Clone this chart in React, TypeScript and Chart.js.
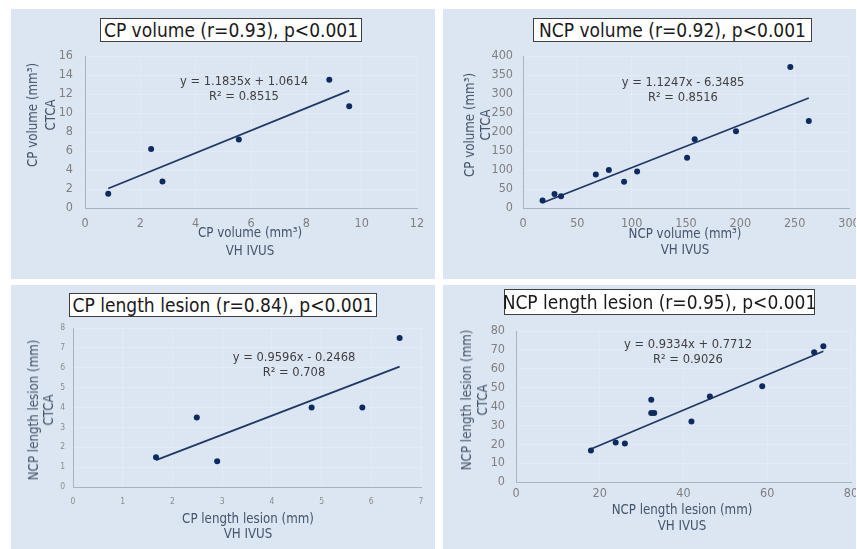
import React, { useEffect, useRef } from "react";
import { Chart, registerables } from "chart.js";

Chart.register(...registerables);

// ---------- data ----------
const cpVolIvus = [0.84, 2.39, 2.8, 5.56, 8.83, 9.55];
const cpVolCtca = [1.5, 6.2, 2.8, 7.2, 13.5, 10.7];

const ncpVolIvus = [18, 29, 35, 67, 79, 93, 105, 151, 158, 196, 246, 263];
const ncpVolCtca = [20, 37, 31, 88, 100, 69, 96, 132, 181, 202, 371, 229];

const cpLenIvus = [1.67, 2.49, 2.9, 4.8, 5.82, 6.57];
const cpLenCtca = [1.5, 3.5, 1.3, 4.0, 4.0, 7.5];

const ncpLenIvus = [17.9, 23.8, 26.0, 32.3, 32.3, 33.0, 41.9, 46.3, 58.8, 71.2, 73.4];
const ncpLenCtca = [16.7, 20.9, 20.4, 43.6, 36.6, 36.6, 32.0, 45.3, 50.7, 68.7, 71.9];

const trendSlopes = [1.1835, 1.1247, 0.9596, 0.9334];
const trendIntercepts = [1.0614, -6.3485, -0.2468, 0.7712];

const panelTitles = [
  "CP volume (r=0.93), p<0.001",
  "NCP volume (r=0.92),  p<0.001",
  "CP length lesion (r=0.84), p<0.001",
  "NCP length lesion (r=0.95), p<0.001",
];
const equations = [
  ["y = 1.1835x + 1.0614", "R\u00b2 = 0.8515"],
  ["y = 1.1247x - 6.3485", "R\u00b2 = 0.8516"],
  ["y = 0.9596x - 0.2468", "R\u00b2 = 0.708"],
  ["y = 0.9334x + 0.7712", "R\u00b2 = 0.9026"],
];
const xTitles = [
  ["CP volume (mm\u00b3)", "VH IVUS"],
  ["NCP volume (mm\u00b3)", "VH IVUS"],
  ["CP length lesion (mm)", "VH IVUS"],
  ["NCP length lesion (mm)", "VH IVUS"],
];
const yTitles = [
  ["CP volume (mm\u00b3)", "CTCA"],
  ["CP volume (mm\u00b3)", "CTCA"],
  ["NCP  length lesion (mm)", "CTCA"],
  ["NCP length lesion (mm)", "CTCA"],
];
const xRanges = [
  [0, 12, 2],
  [0, 300, 50],
  [0, 7, 1],
  [0, 80, 20],
];
const yRanges = [
  [0, 16, 2],
  [0, 400, 50],
  [0, 8, 1],
  [0, 80, 10],
];

// ---------- styling / layout ----------
const FONT = "'DejaVu Sans Condensed', 'DejaVu Sans', sans-serif";
const PANEL_BG = "#dce6f2";
const POINT_COLOR = "#0d2b5e";
const LINE_COLOR = "#1f3864";
const AXIS_TITLE_COLOR = "#44546a";
const GRID_COLOR = "rgba(255,255,255,0.18)";

type Layout = {
  box: [number, number, number, number];
  pad: { top: number; right: number };
  yW: number;
  xH: number;
  tickSize: number;
  tickColor: string;
  yTickPad: number;
  xTickPad: number;
  titleBox: [number, number, number, number];
  titleSize: number;
  eq: [number, number];
  eqSize: number;
  xTitle: [number, number];
  yTitle: [number, number];
  axisSize: number;
  axisLH: number;
};

const layouts: Layout[] = [
  {
    box: [11, 9, 424, 270],
    pad: { top: 47, right: 18 },
    yW: 74,
    xH: 71,
    tickSize: 12.5,
    tickColor: "#7f7f7f",
    yTickPad: 12,
    xTickPad: 8,
    titleBox: [100, 18, 262, 24],
    titleSize: 19,
    eq: [244, 88],
    eqSize: 12.8,
    xTitle: [250, 242],
    yTitle: [41.5, 115],
    axisSize: 13.2,
    axisLH: 18,
  },
  {
    box: [443, 9, 413, 270],
    pad: { top: 47, right: 7 },
    yW: 80,
    xH: 71,
    tickSize: 12.5,
    tickColor: "#7f7f7f",
    yTickPad: 10,
    xTickPad: 8,
    titleBox: [533, 18, 279, 24],
    titleSize: 19,
    eq: [683, 89],
    eqSize: 12.8,
    xTitle: [685, 242],
    yTitle: [477.5, 125],
    axisSize: 13.2,
    axisLH: 16,
  },
  {
    box: [11, 285, 424, 264],
    pad: { top: 43, right: 14 },
    yW: 62,
    xH: 62,
    tickSize: 8.5,
    tickColor: "#8c8c8c",
    yTickPad: 8,
    xTickPad: 10,
    titleBox: [69, 293, 308, 24],
    titleSize: 19,
    eq: [294, 364],
    eqSize: 12.8,
    xTitle: [248, 526],
    yTitle: [40.5, 410],
    axisSize: 13.2,
    axisLH: 15,
  },
  {
    box: [443, 285, 413, 264],
    pad: { top: 46, right: 5 },
    yW: 73,
    xH: 67,
    tickSize: 12.5,
    tickColor: "#7f7f7f",
    yTickPad: 11,
    xTickPad: 4,
    titleBox: [504, 289, 311, 26],
    titleSize: 19,
    eq: [688, 351],
    eqSize: 12.8,
    xTitle: [682, 518],
    yTitle: [474.5, 400],
    axisSize: 13.2,
    axisLH: 16,
  },
];

const seriesX = [cpVolIvus, ncpVolIvus, cpLenIvus, ncpLenIvus];
const seriesY = [cpVolCtca, ncpVolCtca, cpLenCtca, ncpLenCtca];

function Panel({ idx }: { idx: number }) {
  const ref = useRef<HTMLCanvasElement | null>(null);
  const L = layouts[idx];
  const [bx, by, bw, bh] = L.box;

  useEffect(() => {
    if (!ref.current) return;
    const xs = seriesX[idx];
    const ys = seriesY[idx];
    const pts = xs.map((x, i) => ({ x, y: ys[i] }));
    const x0 = Math.min(...xs);
    const x1 = Math.max(...xs);
    const m = trendSlopes[idx];
    const b = trendIntercepts[idx];
    const trend = [
      { x: x0, y: m * x0 + b },
      { x: x1, y: m * x1 + b },
    ];
    const [xmin, xmax, xstep] = xRanges[idx];
    const [ymin, ymax, ystep] = yRanges[idx];
    const tickFont = { family: FONT, size: L.tickSize };
    const chart = new Chart(ref.current, {
      type: "scatter",
      data: {
        datasets: [
          {
            data: pts,
            backgroundColor: POINT_COLOR,
            borderColor: POINT_COLOR,
            pointRadius: 3,
            pointBorderWidth: 0,
            order: 0,
          },
          {
            data: trend,
            showLine: true,
            borderColor: LINE_COLOR,
            borderWidth: 1.8,
            pointRadius: 0,
            fill: false,
            order: 1,
          },
        ],
      },
      options: {
        animation: false,
        responsive: false,
        events: [],
        layout: { padding: { left: 0, top: L.pad.top, right: L.pad.right, bottom: 0 } },
        plugins: { legend: { display: false }, tooltip: { enabled: false } },
        scales: {
          x: {
            type: "linear",
            min: xmin,
            max: xmax,
            ticks: { stepSize: xstep, color: L.tickColor, font: tickFont, padding: L.xTickPad, maxRotation: 0 },
            grid: { color: GRID_COLOR, drawTicks: false },
            border: { color: "#a9b3bf", width: 1 },
            afterFit: (s: any) => {
              s.height = L.xH;
              s.paddingLeft = 0;
              s.paddingRight = 0;
            },
          },
          y: {
            type: "linear",
            min: ymin,
            max: ymax,
            ticks: { stepSize: ystep, color: L.tickColor, font: tickFont, padding: L.yTickPad },
            grid: { color: GRID_COLOR, drawTicks: false },
            border: { color: "#a9b3bf", width: 1 },
            afterFit: (s: any) => {
              s.width = L.yW;
              s.paddingTop = 0;
              s.paddingBottom = 0;
            },
          },
        },
      },
    } as any);
    return () => chart.destroy();
  }, [idx]);

  const [tx, ty, tw, th] = L.titleBox;
  const abs: React.CSSProperties = { position: "absolute", whiteSpace: "nowrap" };
  return (
    <>
      <div style={{ ...abs, left: bx, top: by, width: bw, height: bh, background: PANEL_BG }}>
        <canvas ref={ref} width={bw} height={bh} style={{ display: "block", width: bw, height: bh }} />
      </div>
      <div
        style={{
          ...abs,
          left: tx,
          top: ty,
          width: tw,
          height: th,
          boxSizing: "border-box",
          border: "1px solid #3f3f3f",
          background: "#ffffff",
          display: "flex",
          alignItems: "center",
          justifyContent: "center",
          fontFamily: FONT,
          fontSize: L.titleSize,
          color: "#1a1a1a",
        }}
      >
        {panelTitles[idx]}
      </div>
      <div
        style={{
          ...abs,
          left: L.eq[0],
          top: L.eq[1],
          transform: "translate(-50%,-50%)",
          textAlign: "center",
          fontFamily: FONT,
          fontSize: L.eqSize,
          lineHeight: "15px",
          color: "#404040",
        }}
      >
        {equations[idx].map((t, i) => (
          <div key={i}>{t}</div>
        ))}
      </div>
      <div
        style={{
          ...abs,
          left: L.xTitle[0],
          top: L.xTitle[1],
          transform: "translate(-50%,-50%)",
          textAlign: "center",
          fontFamily: FONT,
          fontSize: L.axisSize,
          lineHeight: L.axisLH + "px",
          color: AXIS_TITLE_COLOR,
        }}
      >
        {xTitles[idx].map((t, i) => (
          <div key={i}>{t}</div>
        ))}
      </div>
      <div
        style={{
          ...abs,
          left: L.yTitle[0],
          top: L.yTitle[1],
          transform: "translate(-50%,-50%) rotate(-90deg)",
          textAlign: "center",
          fontFamily: FONT,
          fontSize: L.axisSize,
          lineHeight: L.axisLH + "px",
          color: AXIS_TITLE_COLOR,
        }}
      >
        {yTitles[idx].map((t, i) => (
          <div key={i}>{t}</div>
        ))}
      </div>
    </>
  );
}

export default function App() {
  return (
    <div
      style={{
        position: "absolute",
        left: 0,
        top: 0,
        width: 857,
        height: 549,
        overflow: "hidden",
        background: "#ffffff",
      }}
    >
      {[0, 1, 2, 3].map((i) => (
        <Panel key={i} idx={i} />
      ))}
    </div>
  );
}
